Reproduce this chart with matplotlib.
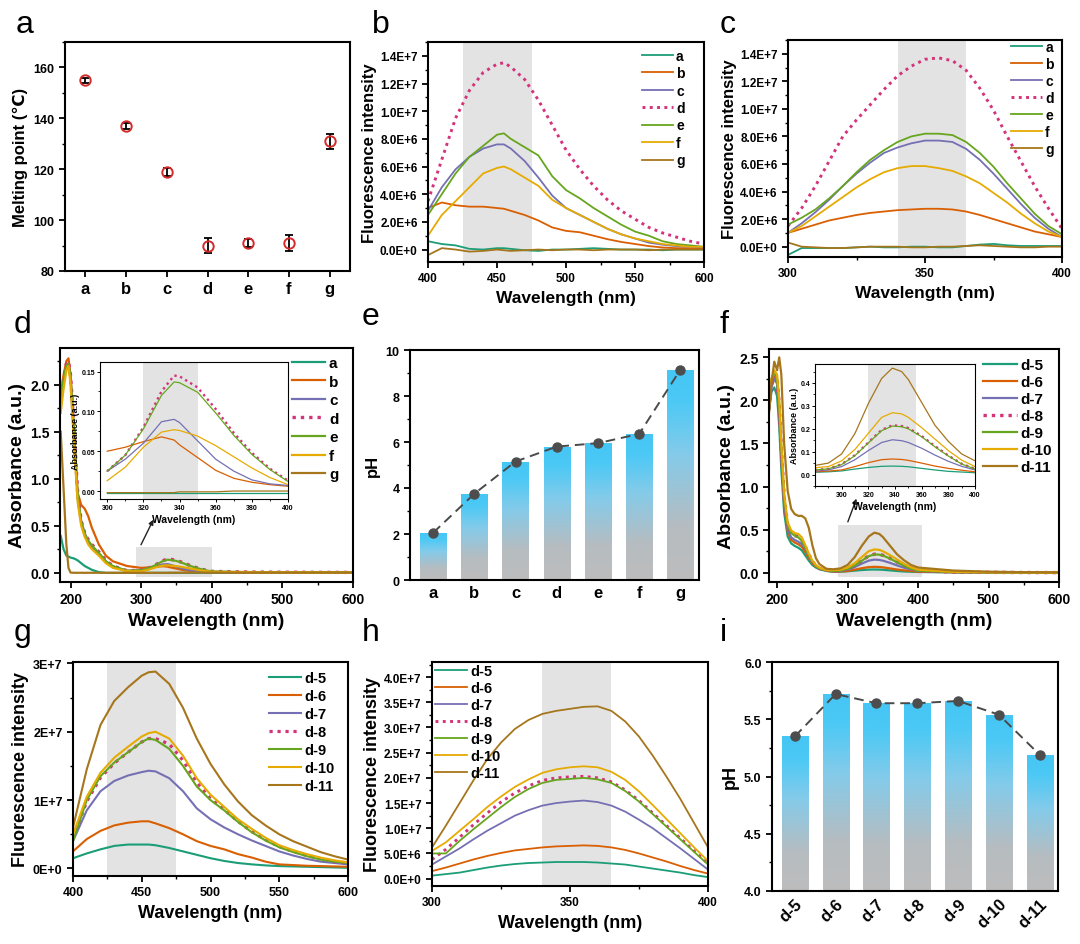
"""Nine-panel figure: melting point, fluorescence / absorbance spectra and pH."""

import numpy as np
import matplotlib
matplotlib.use("Agg")
import matplotlib.pyplot as plt
from matplotlib.colors import LinearSegmentedColormap
from matplotlib.patches import Rectangle
from matplotlib.ticker import MultipleLocator

plt.rcParams["font.family"] = ["Liberation Sans", "DejaVu Sans"]
plt.rcParams["font.weight"] = "bold"
plt.rcParams["axes.labelweight"] = "bold"

# ---------------- data ----------------
SAMPLES = ["a", "b", "c", "d", "e", "f", "g"]
DOSES = ["d-5", "d-6", "d-7", "d-8", "d-9", "d-10", "d-11"]
COLORS = ["#1b9e77", "#d95f02", "#7570b3", "#d4327a", "#66a61e", "#e6ab02", "#a6761d"]

# (a) melting point
MELT = [155, 137, 119, 90, 91, 91, 131]
MELT_ERR = [1.0, 1.0, 1.5, 3.0, 1.5, 3.0, 3.0]

# (b) fluorescence, 400-600 nm, values in 1E+6
WL_B = [400, 410, 420, 430, 440, 450, 455, 460, 470, 480, 490, 500, 510, 520, 530,
        540, 550, 560, 570, 580, 590, 600]
FL_B = {
    "a": [0.6, 0.4, 0.3, 0.05, 0.0, 0.1, 0.1, 0.05, -0.05, -0.1, 0.0, 0.0, 0.05, 0.1, 0.05,
          0.0, 0.0, 0.0, -0.05, 0.0, 0.0, 0.0],
    "b": [3.0, 3.4, 3.2, 3.1, 3.1, 3.0, 2.95, 2.8, 2.5, 2.1, 1.6, 1.35, 1.25, 1.0, 0.75,
          0.55, 0.4, 0.25, 0.15, 0.1, 0.1, 0.1],
    "c": [2.8, 4.5, 5.8, 6.7, 7.3, 7.6, 7.6, 7.3, 6.4, 5.2, 3.9, 3.0, 2.5, 2.0, 1.5,
          1.1, 0.8, 0.5, 0.35, 0.25, 0.2, 0.15],
    "d": [3.5, 6.5, 9.5, 11.5, 12.8, 13.4, 13.5, 13.2, 12.3, 10.8, 9.0, 7.2, 5.8, 4.6, 3.6,
          2.8, 2.2, 1.6, 1.2, 0.9, 0.6, 0.4],
    "e": [2.5, 4.0, 5.5, 6.7, 7.5, 8.3, 8.4, 8.0, 7.4, 6.8, 5.3, 4.3, 3.7, 3.0, 2.4,
          1.8, 1.3, 1.0, 0.6, 0.4, 0.3, 0.2],
    "f": [1.0, 2.5, 3.5, 4.5, 5.5, 5.9, 6.0, 5.8, 5.2, 4.6, 3.6, 3.0, 2.5, 2.0, 1.5,
          1.1, 0.8, 0.6, 0.4, 0.3, 0.2, 0.2],
    "g": [-0.4, 0.1, 0.0, -0.15, -0.1, 0.0, -0.05, -0.1, -0.05, 0.0, -0.05, 0.0, 0.0, -0.05, 0.0,
          0.0, 0.0, -0.05, 0.0, 0.0, 0.0, 0.0],
}

# (c) fluorescence, 300-400 nm, values in 1E+6
WL_C = [300, 305, 310, 315, 320, 325, 330, 335, 340, 345, 350, 355, 360, 365, 370,
        375, 380, 385, 390, 395, 400]
FL_C = {
    "a": [-0.6, -0.1, -0.1, -0.1, -0.1, -0.05, 0.0, -0.05, -0.05, 0.0, 0.0, -0.05, -0.05, 0.05, 0.15,
          0.2, 0.1, 0.05, 0.05, 0.05, 0.05],
    "b": [1.0, 1.3, 1.6, 1.9, 2.1, 2.3, 2.45, 2.55, 2.65, 2.7, 2.75, 2.75, 2.7, 2.55, 2.3,
          2.0, 1.7, 1.4, 1.1, 0.9, 0.7],
    "c": [1.0, 1.7, 2.5, 3.4, 4.4, 5.3, 6.1, 6.8, 7.2, 7.5, 7.7, 7.7, 7.6, 7.1, 6.3,
          5.3, 4.2, 3.1, 2.1, 1.3, 0.7],
    "d": [1.5, 2.8, 4.4, 6.2, 8.0, 9.2, 10.3, 11.4, 12.4, 13.1, 13.6, 13.7, 13.5, 12.8, 11.5,
          9.9, 8.0, 6.2, 4.4, 2.8, 1.3],
    "e": [1.6, 2.1, 2.7, 3.5, 4.4, 5.4, 6.3, 7.0, 7.6, 8.0, 8.2, 8.2, 8.1, 7.6, 6.8,
          5.8, 4.6, 3.5, 2.4, 1.5, 0.9],
    "f": [1.0, 1.5, 2.2, 2.9, 3.6, 4.3, 4.9, 5.4, 5.7, 5.85, 5.85, 5.7, 5.5, 5.1, 4.6,
          3.9, 3.2, 2.4, 1.7, 1.1, 0.7],
    "g": [0.3, 0.0, -0.05, -0.1, -0.1, -0.05, 0.0, 0.0, 0.0, -0.05, -0.05, 0.0, 0.0, 0.05, 0.1,
          0.05, 0.0, -0.05, -0.05, 0.0, 0.0],
}

# (d) absorbance: UV part, 300-400 part (also the inset) and tail
D_UV_WL = [186, 190, 194, 197, 200, 205, 210, 215, 220, 225, 230, 240, 250, 260, 280]
D_UV = {
    "a": [0.39, 0.25, 0.18, 0.17, 0.16, 0.15, 0.13, 0.10, 0.07, 0.05, 0.03, 0.005, -0.003, -0.003, -0.003],
    "b": [1.9, 2.1, 2.25, 2.28, 2.1, 1.5, 0.85, 0.72, 0.68, 0.6, 0.48, 0.3, 0.18, 0.12, 0.07],
    "c": [1.8, 2.0, 2.2, 2.22, 2.05, 1.4, 0.8, 0.55, 0.42, 0.33, 0.28, 0.2, 0.12, 0.06, 0.02],
    "d": [1.85, 2.05, 2.22, 2.25, 2.1, 1.5, 0.85, 0.55, 0.42, 0.35, 0.3, 0.22, 0.13, 0.07, 0.02],
    "e": [1.85, 2.05, 2.2, 2.22, 2.08, 1.48, 0.83, 0.54, 0.41, 0.34, 0.29, 0.21, 0.12, 0.07, 0.02],
    "f": [1.7, 1.95, 2.15, 2.2, 2.0, 1.35, 0.75, 0.5, 0.38, 0.3, 0.25, 0.18, 0.1, 0.05, 0.015],
    "g": [1.5, 0.9, 0.3, 0.05, 0.0, -0.002, -0.002, -0.002, -0.002, -0.002, -0.002, -0.002, -0.002, -0.002, -0.002],
}
D_IN_WL = [300, 310, 320, 330, 337, 340, 350, 360, 370, 380, 390, 400]
D_IN = {
    "a": [-0.003, -0.003, -0.003, -0.003, -0.003, -0.003, -0.003, -0.003, -0.003, -0.003, -0.003, -0.003],
    "b": [0.05, 0.055, 0.062, 0.068, 0.064, 0.058, 0.042, 0.026, 0.016, 0.011, 0.008, 0.006],
    "c": [0.025, 0.04, 0.06, 0.087, 0.09, 0.086, 0.063, 0.04, 0.025, 0.014, 0.009, 0.007],
    "d": [0.025, 0.045, 0.08, 0.125, 0.145, 0.144, 0.13, 0.103, 0.073, 0.048, 0.028, 0.013],
    "e": [0.025, 0.045, 0.078, 0.12, 0.137, 0.136, 0.124, 0.098, 0.07, 0.046, 0.027, 0.012],
    "f": [0.013, 0.03, 0.055, 0.074, 0.077, 0.076, 0.069, 0.057, 0.043, 0.029, 0.017, 0.008],
    "g": [-0.002, -0.002, -0.002, -0.002, -0.002, -0.001, -0.001, -0.001, 0.0, 0.0, 0.0, 0.0],
}
D_TAIL_WL = [450, 500, 550, 600]
D_TAIL = {
    "a": [-0.003, -0.003, -0.003, -0.003],
    "b": [0.004, 0.002, 0.001, 0.0],
    "c": [0.004, 0.002, 0.001, 0.0],
    "d": [0.006, 0.004, 0.003, 0.002],
    "e": [0.006, 0.004, 0.003, 0.002],
    "f": [0.004, 0.002, 0.001, 0.0],
    "g": [0.0, 0.0, 0.0, 0.0],
}

# (e) pH of a-g
PH_E = [2.05, 3.75, 5.15, 5.8, 5.95, 6.35, 9.15]

# (f) absorbance of d-5 ... d-11
F_UV_WL = [188, 192, 196, 200, 203, 206, 210, 215, 220, 225, 230, 235, 240, 245, 250, 255, 260, 270]
F_UV = {
    "d-5": [1.85, 2.1, 2.15, 2.05, 1.7, 1.2, 0.7, 0.42, 0.34, 0.31, 0.29, 0.26, 0.2, 0.14, 0.09, 0.06, 0.04, 0.02],
    "d-6": [1.9, 2.2, 2.3, 2.2, 1.85, 1.35, 0.8, 0.48, 0.38, 0.35, 0.33, 0.3, 0.24, 0.17, 0.11, 0.07, 0.05, 0.025],
    "d-7": [1.85, 2.15, 2.25, 2.2, 1.85, 1.35, 0.82, 0.5, 0.41, 0.38, 0.36, 0.33, 0.27, 0.19, 0.12, 0.08, 0.05, 0.03],
    "d-8": [1.9, 2.2, 2.3, 2.25, 1.95, 1.45, 0.88, 0.55, 0.46, 0.43, 0.42, 0.38, 0.3, 0.21, 0.13, 0.08, 0.05, 0.03],
    "d-9": [1.95, 2.25, 2.32, 2.25, 1.95, 1.45, 0.88, 0.55, 0.46, 0.43, 0.41, 0.37, 0.29, 0.2, 0.13, 0.08, 0.05, 0.03],
    "d-10": [1.95, 2.25, 2.35, 2.3, 2.0, 1.5, 0.92, 0.58, 0.49, 0.46, 0.45, 0.41, 0.32, 0.22, 0.14, 0.09, 0.06, 0.03],
    "d-11": [1.8, 2.2, 2.45, 2.35, 2.5, 2.3, 1.5, 0.95, 0.74, 0.68, 0.66, 0.66, 0.63, 0.52, 0.32, 0.17, 0.1, 0.045],
}
F_IN_WL = [280, 290, 300, 310, 320, 330, 338, 345, 350, 360, 370, 380, 390, 400]
F_IN = {
    "d-5": [0.01, 0.012, 0.016, 0.024, 0.031, 0.036, 0.037, 0.036, 0.034, 0.027, 0.02, 0.014, 0.011, 0.008],
    "d-6": [0.012, 0.015, 0.02, 0.035, 0.052, 0.065, 0.068, 0.066, 0.062, 0.05, 0.037, 0.027, 0.019, 0.012],
    "d-7": [0.015, 0.02, 0.035, 0.065, 0.105, 0.14, 0.152, 0.148, 0.14, 0.115, 0.085, 0.058, 0.036, 0.02],
    "d-8": [0.02, 0.025, 0.045, 0.085, 0.14, 0.195, 0.215, 0.212, 0.203, 0.168, 0.124, 0.083, 0.047, 0.025],
    "d-9": [0.02, 0.025, 0.044, 0.083, 0.138, 0.192, 0.212, 0.209, 0.2, 0.165, 0.121, 0.081, 0.046, 0.024],
    "d-10": [0.03, 0.035, 0.06, 0.11, 0.18, 0.25, 0.27, 0.265, 0.25, 0.205, 0.155, 0.105, 0.063, 0.035],
    "d-11": [0.04, 0.05, 0.09, 0.18, 0.31, 0.42, 0.465, 0.45, 0.415, 0.315, 0.215, 0.145, 0.09, 0.06],
}
F_TAIL_WL = [450, 500, 550, 600]
F_TAIL = {
    "d-5": [0.004, 0.002, 0.001, 0.0],
    "d-6": [0.005, 0.003, 0.001, 0.0],
    "d-7": [0.006, 0.003, 0.002, 0.001],
    "d-8": [0.008, 0.004, 0.002, 0.001],
    "d-9": [0.008, 0.004, 0.002, 0.001],
    "d-10": [0.01, 0.005, 0.003, 0.001],
    "d-11": [0.025, 0.012, 0.006, 0.003],
}

# (g) fluorescence 400-600 nm of d-5 ... d-11, values in 1E+6
WL_G = [400, 410, 420, 430, 440, 450, 455, 460, 470, 480, 490, 500, 510, 520, 530,
        540, 550, 560, 570, 580, 590, 600]
FL_G = {
    "d-5": [1.5, 2.2, 2.8, 3.3, 3.5, 3.5, 3.5, 3.4, 3.0, 2.5, 2.0, 1.5, 1.1, 0.8, 0.6,
            0.45, 0.35, 0.3, 0.25, 0.2, 0.15, 0.1],
    "d-6": [2.5, 4.3, 5.5, 6.3, 6.7, 6.9, 6.9, 6.6, 5.9, 5.0, 4.0, 3.3, 2.8, 2.1, 1.6,
            1.0, 0.6, 0.5, 0.4, 0.35, 0.3, 0.25],
    "d-7": [4.0, 8.5, 11.3, 12.8, 13.6, 14.1, 14.3, 14.2, 13.2, 11.3, 8.8, 7.2, 6.0, 5.0, 4.1,
            3.3, 2.5, 1.9, 1.4, 1.0, 0.8, 0.6],
    "d-8": [4.5, 9.8, 13.3, 15.4, 17.0, 18.5, 19.0, 19.0, 18.2, 15.8, 12.6, 10.2, 8.6, 6.9, 5.4,
            4.2, 3.2, 2.5, 1.9, 1.4, 1.0, 0.8],
    "d-9": [4.0, 10.0, 13.5, 15.5, 17.0, 18.5, 19.0, 18.8, 17.5, 15.0, 12.0, 10.0, 8.5, 6.8, 5.3,
            4.1, 3.1, 2.4, 1.8, 1.3, 1.0, 0.8],
    "d-10": [5.0, 10.5, 14.0, 16.2, 17.8, 19.3, 19.8, 20.0, 19.0, 16.5, 13.2, 10.8, 9.0, 7.2, 5.8,
             4.5, 3.4, 2.7, 2.1, 1.6, 1.2, 0.9],
    "d-11": [6.0, 14.5, 21.0, 24.5, 26.5, 28.2, 28.7, 28.8, 27.0, 23.5, 19.0, 15.3, 12.3, 9.8, 7.8,
             6.3, 5.0, 4.0, 3.2, 2.4, 1.8, 1.3],
}

# (h) fluorescence 300-400 nm of d-5 ... d-11, values in 1E+7
WL_H = [300, 305, 310, 315, 320, 325, 330, 335, 340, 345, 350, 355, 360, 365, 370,
        375, 380, 385, 390, 395, 400]
FL_H = {
    "d-5": [0.06, 0.09, 0.12, 0.17, 0.22, 0.26, 0.29, 0.31, 0.32, 0.33, 0.33, 0.33, 0.32, 0.3, 0.28,
            0.24, 0.2, 0.16, 0.12, 0.07, 0.03],
    "d-6": [0.15, 0.22, 0.3, 0.38, 0.45, 0.51, 0.56, 0.59, 0.62, 0.64, 0.65, 0.66, 0.65, 0.62, 0.57,
            0.5, 0.42, 0.34, 0.25, 0.17, 0.1],
    "d-7": [0.28, 0.44, 0.6, 0.78, 0.95, 1.1, 1.25, 1.36, 1.45, 1.5, 1.53, 1.55, 1.52, 1.45, 1.33,
            1.17, 1.0, 0.8, 0.6, 0.39, 0.18],
    "d-8": [0.38, 0.58, 0.82, 1.07, 1.3, 1.52, 1.7, 1.84, 1.95, 2.0, 2.02, 2.03, 2.0, 1.92, 1.76,
            1.55, 1.3, 1.05, 0.8, 0.55, 0.3],
    "d-9": [0.5, 0.5, 0.75, 0.98, 1.2, 1.42, 1.62, 1.78, 1.9, 1.96, 1.98, 2.0, 1.97, 1.9, 1.74,
            1.53, 1.28, 1.03, 0.78, 0.53, 0.28],
    "d-10": [0.55, 0.72, 0.95, 1.18, 1.42, 1.63, 1.82, 1.97, 2.1, 2.17, 2.21, 2.23, 2.21, 2.12, 1.96,
             1.73, 1.46, 1.18, 0.9, 0.62, 0.35],
    "d-11": [0.62, 1.05, 1.5, 1.95, 2.37, 2.7, 2.97, 3.15, 3.27, 3.33, 3.37, 3.41, 3.42, 3.33, 3.12,
             2.82, 2.44, 2.02, 1.58, 1.1, 0.62],
}

# (i) pH of d-5 ... d-11
PH_I = [5.35, 5.72, 5.64, 5.64, 5.66, 5.54, 5.19]

# tick label texts
TICKS_BC = ["0.0E+0", "2.0E+6", "4.0E+6", "6.0E+6", "8.0E+6", "1.0E+7", "1.2E+7", "1.4E+7"]
TICKS_G = ["0E+0", "1E+7", "2E+7", "3E+7"]
TICKS_H = ["0.0E+0", "5.0E+6", "1.0E+7", "1.5E+7", "2.0E+7", "2.5E+7", "3.0E+7", "3.5E+7", "4.0E+7"]

BAR_CMAP = LinearSegmentedColormap.from_list(
    "blue_gray", [(0.0, "#bdbdbd"), (0.25, "#b6bcc0"), (0.6, "#84cbea"), (0.85, "#4cc9f5"), (1.0, "#45c6f5")]
)
SHADE = "#e3e3e3"


# ---------------- helpers ----------------
fig = plt.figure(figsize=(10.8, 9.45), dpi=100)


def px_axes(left, top, right, bottom):
    return fig.add_axes([left / 1080, 1 - bottom / 945, (right - left) / 1080, (bottom - top) / 945])


def style(ax, size=9, spine=1.5, major=4, minor=2.5):
    for s in ax.spines.values():
        s.set_linewidth(spine)
    ax.tick_params(which="major", direction="out", length=major, width=1.3, labelsize=size)
    ax.tick_params(which="minor", direction="out", length=minor, width=1.0)


def draw_lines(ax, wl, series, labels, scale=1.0, lw=1.3):
    for lab, col in zip(labels, COLORS):
        y = np.asarray(series[lab]) * scale
        if lab in ("d", "d-8"):
            ax.plot(wl, y, color=col, lw=lw + 0.8, ls=(0, (1, 1.5)), label=lab)
        else:
            ax.plot(wl, y, color=col, lw=lw, label=lab)


def legend(ax, loc, anchor, size, spacing):
    ax.legend(loc=loc, bbox_to_anchor=anchor, frameon=False, borderpad=0, borderaxespad=0,
              handlelength=2.2, handletextpad=0.25, labelspacing=spacing,
              prop={"weight": "bold", "size": size})


def gradient_bars(ax, heights, base, width=0.64):
    for xi, h in zip(range(1, len(heights) + 1), heights):
        patch = ax.bar(xi, h - base, bottom=base, width=width, color="none", edgecolor="none")[0]
        grad = np.linspace(0, 1, 256).reshape(-1, 1)
        im = ax.imshow(grad, extent=[xi - width / 2, xi + width / 2, base, h], origin="lower",
                       cmap=BAR_CMAP, aspect="auto", zorder=1)
        im.set_clip_path(patch)


def panel_letter(x, y, s):
    fig.text(x / 1080, 1 - y / 945, s, fontsize=23, fontweight="normal", va="baseline")


# ---------------- (a) ----------------
ax = px_axes(65, 43, 350, 272)
xa = np.arange(1, 8)
ax.errorbar(xa, MELT, yerr=MELT_ERR, fmt="none", ecolor="black", elinewidth=1.3, capsize=3, capthick=1.3)
ax.plot(xa, MELT, "o", ms=7.5, mfc="none", mec="#d42a2a", mew=1.4)
ax.set_xlim(0.5, 7.5)
ax.set_ylim(80, 170)
ax.set_yticks([80, 100, 120, 140, 160])
ax.yaxis.set_minor_locator(MultipleLocator(10))
ax.set_xticks(xa, SAMPLES)
style(ax)
ax.tick_params(axis="x", labelsize=12)
ax.set_ylabel("Melting point (℃)", fontsize=12)

# ---------------- (b) ----------------
ax = px_axes(428, 43, 704, 263)
ax.axvspan(425, 475, color=SHADE, lw=0, zorder=0)
draw_lines(ax, WL_B, FL_B, SAMPLES, scale=1e6)
ax.set_xlim(400, 600)
ax.set_ylim(-0.9e6, 1.5e7)
ax.set_yticks(np.arange(8) * 2e6, TICKS_BC)
ax.yaxis.set_minor_locator(MultipleLocator(1e6))
ax.set_xticks([400, 450, 500, 550, 600])
ax.xaxis.set_minor_locator(MultipleLocator(25))
style(ax, size=8.5)
ax.set_xlabel("Wavelength (nm)", fontsize=12.5)
ax.set_ylabel("Fluorescence intensity", fontsize=12, labelpad=2)
legend(ax, "upper right", (0.93, 0.97), 10, 0.25)

# ---------------- (c) ----------------
ax = px_axes(788, 41, 1062, 258)
ax.axvspan(340, 365, color=SHADE, lw=0, zorder=0)
draw_lines(ax, WL_C, FL_C, SAMPLES, scale=1e6)
ax.set_xlim(300, 400)
ax.set_ylim(-0.75e6, 1.5e7)
ax.set_yticks(np.arange(8) * 2e6, TICKS_BC)
ax.yaxis.set_minor_locator(MultipleLocator(1e6))
ax.set_xticks([300, 350, 400])
ax.xaxis.set_minor_locator(MultipleLocator(25))
style(ax, size=8.5)
ax.set_xlabel("Wavelength (nm)", fontsize=12.5)
ax.set_ylabel("Fluorescence intensity", fontsize=12, labelpad=2)
legend(ax, "upper right", (0.97, 1.0), 10, 0.22)


# ---------------- (d) and (f): absorbance with inset ----------------
def absorbance_panel(box, inset_box, labels, uv_wl, uv, in_wl, inn, tail_wl, tail,
                     xlim, ylim, yticks, rect, arrow, in_xlim, in_ylim, in_yticks, in_fmt,
                     in_shade, leg_anchor, leg_spacing):
    ax = px_axes(*box)
    wl = list(uv_wl) + list(in_wl) + list(tail_wl)
    full = {k: list(uv[k]) + list(inn[k]) + list(tail[k]) for k in labels}
    draw_lines(ax, wl, full, labels, lw=1.6)
    ax.add_patch(Rectangle((rect[0], rect[1]), rect[2] - rect[0], rect[3] - rect[1],
                           color=SHADE, lw=0, zorder=0))
    ax.annotate("", xy=arrow[1], xytext=arrow[0],
                arrowprops=dict(arrowstyle="-|>", color="#222222", lw=1.0, mutation_scale=7))
    ax.set_xlim(*xlim)
    ax.set_ylim(*ylim)
    ax.set_yticks(yticks)
    ax.yaxis.set_minor_locator(MultipleLocator(0.25))
    ax.set_xticks([200, 300, 400, 500, 600])
    ax.xaxis.set_minor_locator(MultipleLocator(50))
    style(ax, size=10)
    ax.set_xlabel("Wavelength (nm)", fontsize=14)
    ax.set_ylabel("Absorbance (a.u.)", fontsize=14, labelpad=3)
    legend(ax, "upper right", leg_anchor, 11, leg_spacing)

    ins = px_axes(*inset_box)
    ins.axvspan(in_shade[0], in_shade[1], color=SHADE, lw=0, zorder=0)
    draw_lines(ins, in_wl, inn, labels, lw=0.9)
    ins.set_xlim(*in_xlim)
    ins.set_ylim(*in_ylim)
    ins.set_xticks([300, 320, 340, 360, 380, 400])
    ins.set_yticks(in_yticks)
    ins.yaxis.set_major_formatter(in_fmt)
    ins.xaxis.set_minor_locator(MultipleLocator(10))
    ins.yaxis.set_minor_locator(MultipleLocator((in_yticks[1] - in_yticks[0]) / 2))
    for s in ins.spines.values():
        s.set_linewidth(0.8)
    ins.tick_params(which="major", direction="out", length=2, width=0.7, labelsize=5, pad=1.5)
    ins.tick_params(which="minor", direction="out", length=1.2, width=0.6)
    ins.set_xlabel("Wavelength (nm)", fontsize=7.5, labelpad=2)
    ins.set_ylabel("Absorbance (a.u.)", fontsize=6.5, labelpad=1)
    return ax


absorbance_panel((60, 349, 353, 583), (100, 363, 288, 500), SAMPLES,
                 D_UV_WL, D_UV, D_IN_WL, D_IN, D_TAIL_WL, D_TAIL,
                 (185, 600), (-0.1, 2.39), [0.0, 0.5, 1.0, 1.5, 2.0],
                 (292, -0.05, 400, 0.27), ((298, 0.27), (319, 0.59)),
                 (296, 400), (-0.01, 0.162), [0.0, 0.05, 0.10, 0.15], "{x:.2f}",
                 (320, 350), (0.95, 0.966), 0.3)

absorbance_panel((769, 350, 1059, 583), (815, 365, 975, 487), DOSES,
                 F_UV_WL, F_UV, F_IN_WL, F_IN, F_TAIL_WL, F_TAIL,
                 (188.5, 600), (-0.108, 2.597), [0.0, 0.5, 1.0, 1.5, 2.0, 2.5],
                 (287, -0.047, 405, 0.555), ((299, 0.56), (314, 0.89)),
                 (280, 400), (-0.05, 0.483), [0.0, 0.1, 0.2, 0.3, 0.4], "{x:.1f}",
                 (320, 356), (0.976, 0.961), 0.2)

# ---------------- (e) ----------------
ax = px_axes(410, 351, 699, 581)
xe = np.arange(1, 8)
gradient_bars(ax, PH_E, 0)
ax.plot(xe, PH_E, ls=(0, (5, 3)), color="#4a4a4a", lw=1.4, zorder=3)
ax.plot(xe, PH_E, "o", color="#4d4d4d", ms=6.5, zorder=4)
ax.set_xlim(0.44, 7.45)
ax.set_ylim(0, 10)
ax.set_yticks([0, 2, 4, 6, 8, 10])
ax.yaxis.set_minor_locator(MultipleLocator(1))
ax.set_xticks(xe, SAMPLES)
style(ax, size=9)
ax.tick_params(axis="x", labelsize=12, length=0)
ax.set_ylabel("pH", fontsize=12)

# ---------------- (g) ----------------
ax = px_axes(73, 663, 348, 877)
ax.axvspan(425, 475, color=SHADE, lw=0, zorder=0)
draw_lines(ax, WL_G, FL_G, DOSES, scale=1e6, lw=1.5)
ax.set_xlim(400, 600)
ax.set_ylim(-1.1e6, 3.02e7)
ax.set_yticks([0, 1e7, 2e7, 3e7], TICKS_G)
ax.yaxis.set_minor_locator(MultipleLocator(5e6))
ax.set_xticks([400, 450, 500, 550, 600])
ax.xaxis.set_minor_locator(MultipleLocator(25))
style(ax, size=9)
ax.set_xlabel("Wavelength (nm)", fontsize=13)
ax.set_ylabel("Fluorescence intensity", fontsize=13, labelpad=3)
legend(ax, "upper right", (0.953, 0.958), 10.5, 0.28)

# ---------------- (h) ----------------
ax = px_axes(432, 663, 708, 887)
ax.axvspan(340, 365, color=SHADE, lw=0, zorder=0)
draw_lines(ax, WL_H, FL_H, DOSES, scale=1e7)
ax.set_xlim(300, 400)
ax.set_ylim(-1.46e6, 4.3e7)
ax.set_yticks(np.arange(9) * 5e6, TICKS_H)
ax.yaxis.set_minor_locator(MultipleLocator(2.5e6))
ax.set_xticks([300, 350, 400])
ax.xaxis.set_minor_locator(MultipleLocator(25))
style(ax, size=8.5)
ax.set_xlabel("Wavelength (nm)", fontsize=13)
ax.set_ylabel("Fluorescence intensity", fontsize=13, labelpad=2)
legend(ax, "upper left", (0.011, 0.99), 10.5, 0.2)

# ---------------- (i) ----------------
ax = px_axes(772, 663, 1058, 892)
xi = np.arange(1, 8)
gradient_bars(ax, PH_I, 4.0)
ax.plot(xi, PH_I, ls=(0, (5, 3)), color="#4a4a4a", lw=1.4, zorder=3)
ax.plot(xi, PH_I, "o", color="#4d4d4d", ms=6.5, zorder=4)
ax.set_xlim(0.44, 7.45)
ax.set_ylim(4.0, 6.0)
ax.set_yticks([4.0, 4.5, 5.0, 5.5, 6.0])
ax.yaxis.set_major_formatter("{x:.1f}")
ax.yaxis.set_minor_locator(MultipleLocator(0.25))
ax.set_xticks(xi, DOSES, rotation=45, ha="right", rotation_mode="anchor")
style(ax, size=9)
ax.tick_params(axis="x", labelsize=12, length=0)
ax.set_ylabel("pH", fontsize=13)

# panel letters
for s, x, y in [("a", 16, 33), ("b", 372, 33), ("c", 720, 33),
                ("d", 14, 333), ("e", 362, 325), ("f", 720, 333),
                ("g", 14, 641), ("h", 362, 641), ("i", 720, 641)]:
    panel_letter(x, y, s)

fig.savefig("out.png", dpi=100)
